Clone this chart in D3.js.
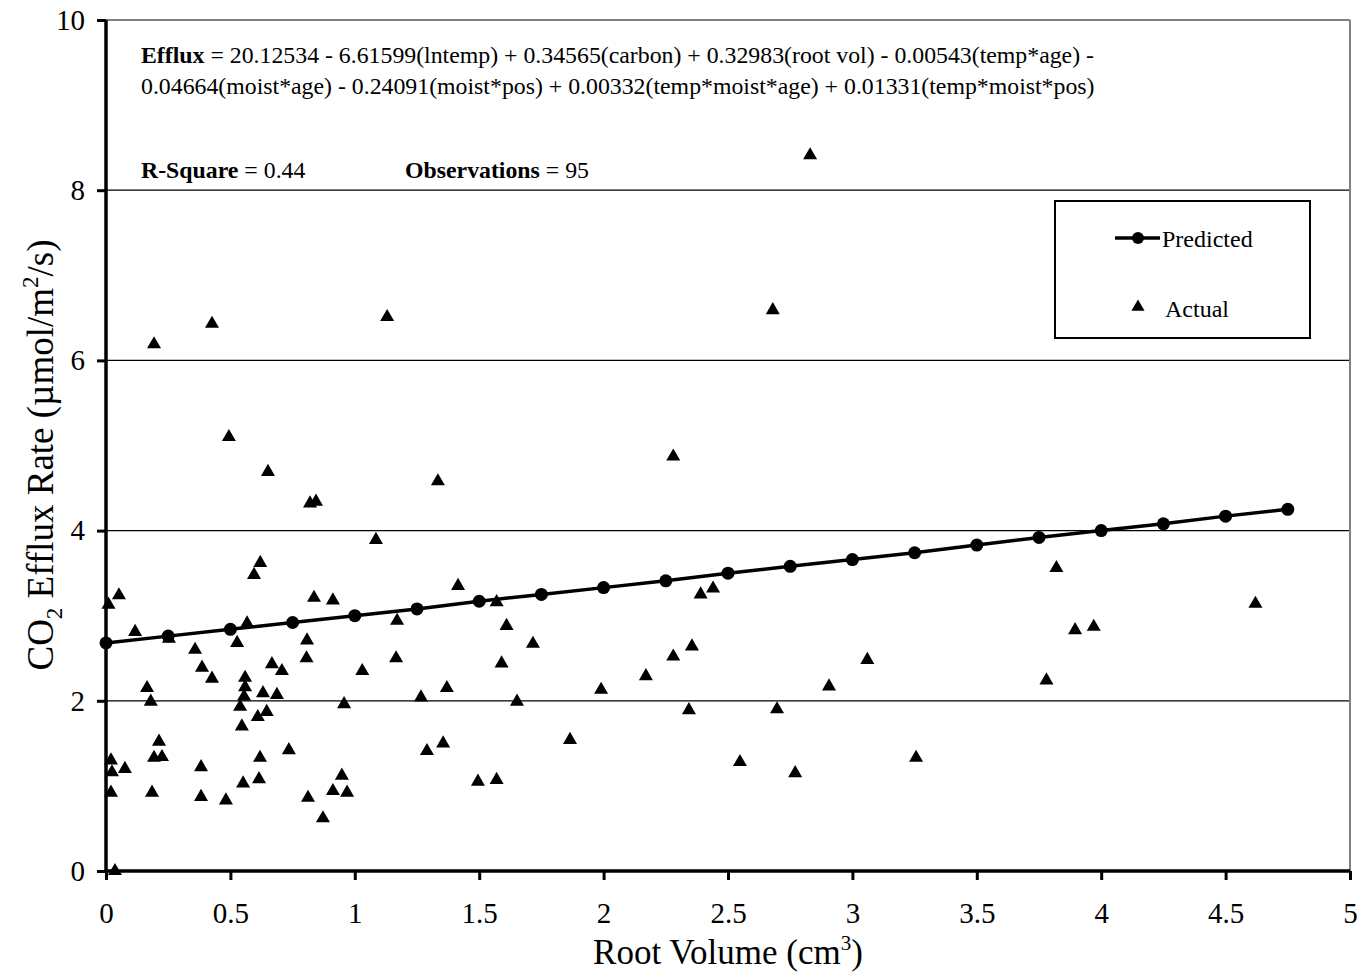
<!DOCTYPE html>
<html><head><meta charset="utf-8">
<script src="https://cdn.jsdelivr.net/npm/d3@7"></script>
<style>
body{margin:0;background:#fff}
svg{display:block}
text{font-family:"Liberation Serif","Times New Roman",serif;fill:#000}
</style>
</head><body>
<svg id="chart" width="1361" height="972"></svg>
<script>
// ---- data ----
const predictedX = [0,0.25,0.5,0.75,1,1.25,1.5,1.75,2,2.25,2.5,2.75,3,3.25,3.5,3.75,4,4.25,4.5,4.75];
const predictedY = [2.68,2.76,2.84,2.92,3.00,3.08,3.17,3.25,3.33,3.41,3.50,3.58,3.66,3.74,3.83,3.92,4.00,4.08,4.17,4.25];
const actualX = [0.01,0.052,0.117,0.253,0.595,0.62,0.836,0.912,0.567,0.527,0.358,0.386,0.426,0.808,0.806,0.667,0.707,0.559,0.559,0.555,
  0.539,0.546,0.631,0.687,0.61,0.646,0.165,0.18,0.957,0.213,0.193,0.225,0.02,0.024,0.076,0.02,0.185,0.382,0.382,0.482,
  0.619,0.551,0.615,0.735,0.812,0.872,0.948,0.912,0.969,0.036,1.415,1.57,1.17,1.61,1.716,1.166,1.59,1.03,1.37,1.266,
  1.652,1.865,1.355,1.29,1.495,1.57,0.193,0.426,1.13,0.494,0.651,0.82,0.844,1.085,2.68,2.28,1.334,2.83,2.39,2.44,
  2.355,2.28,2.17,1.99,3.06,2.906,2.343,2.697,2.548,2.77,3.256,3.82,4.62,3.895,3.97,3.78];
const actualY = [3.13,3.24,2.81,2.73,3.48,3.62,3.21,3.18,2.91,2.68,2.60,2.39,2.26,2.71,2.50,2.43,2.35,2.27,2.16,2.05,
  1.93,1.70,2.09,2.07,1.81,1.87,2.15,1.99,1.96,1.52,1.33,1.34,1.30,1.16,1.20,0.92,0.92,1.22,0.87,0.83,
  1.33,1.03,1.08,1.42,0.86,0.62,1.12,0.94,0.92,0.0,3.35,3.16,2.94,2.88,2.67,2.50,2.44,2.35,2.15,2.04,
  1.99,1.54,1.50,1.41,1.05,1.07,6.19,6.43,6.51,5.10,4.69,4.32,4.34,3.89,6.59,4.87,4.58,8.41,3.25,3.32,
  2.64,2.52,2.29,2.13,2.48,2.17,1.89,1.90,1.28,1.15,1.33,3.56,3.14,2.83,2.87,2.24];
const xTicks = [0,0.5,1,1.5,2,2.5,3,3.5,4,4.5,5];
const xTickLabels = ["0","0.5","1","1.5","2","2.5","3","3.5","4","4.5","5"];
const yTicks = [0,2,4,6,8,10];
const yTickLabels = ["0","2","4","6","8","10"];
const gridValues = [2,4,6,8];
const seriesNames = ["Predicted","Actual"];

// ---- chart ----
const svg = d3.select("#chart");
const x = d3.scaleLinear().domain([0,5]).range([106,1350]);
const y = d3.scaleLinear().domain([0,10]).range([871,20]);

// grid
svg.append("g").selectAll("line").data(gridValues).join("line")
  .attr("x1", x(0)).attr("x2", x(5))
  .attr("y1", d=>y(d)).attr("y2", d=>y(d))
  .attr("stroke","#000").attr("stroke-width",1.2);

// plot border top/right (gray)
svg.append("line").attr("x1",x(0)).attr("x2",x(5)).attr("y1",y(10)).attr("y2",y(10))
  .attr("stroke","#808080").attr("stroke-width",2);
svg.append("line").attr("x1",x(5)).attr("x2",x(5)).attr("y1",y(10)).attr("y2",y(0))
  .attr("stroke","#808080").attr("stroke-width",2);

// axes
const xAxis = svg.append("g").attr("transform",`translate(0,${y(0)})`)
  .call(d3.axisBottom(x).tickValues(xTicks).tickSize(9).tickPadding(22)
    .tickFormat((d,i)=>xTickLabels[i]));
const yAxis = svg.append("g").attr("transform",`translate(${x(0)},0)`)
  .call(d3.axisLeft(y).tickValues(yTicks).tickSize(9).tickPadding(12)
    .tickFormat((d,i)=>yTickLabels[i]));
[xAxis,yAxis].forEach(a=>{
  a.attr("font-family",null).attr("font-size",null);
  a.select(".domain").attr("stroke","#000").attr("stroke-width",3.5);
  a.selectAll(".tick line").attr("stroke","#000").attr("stroke-width",3);
  a.selectAll(".tick text").attr("font-size",29).attr("fill","#000");
});
xAxis.select(".domain").attr("d",`M${x(0)},0H${x(5)}`);
yAxis.select(".domain").attr("d",`M0,${y(10)}V${y(0)}`);

// predicted line
const line = d3.line().x(d=>x(d[0])).y(d=>y(d[1]));
const pred = predictedX.map((v,i)=>[v,predictedY[i]]);
svg.append("path").datum(pred).attr("d",line).attr("fill","none")
  .attr("stroke","#000").attr("stroke-width",3.5);
svg.append("g").selectAll("circle").data(pred).join("circle")
  .attr("cx",d=>x(d[0])).attr("cy",d=>y(d[1])).attr("r",6.5).attr("fill","#000");

// actual triangles
const tri = d3.symbol().type(d3.symbolTriangle).size(85);
svg.append("g").selectAll("path").data(actualX.map((v,i)=>[v,actualY[i]])).join("path")
  .attr("d",tri).attr("transform",d=>`translate(${x(d[0])},${y(d[1])})`).attr("fill","#000");

// axis titles
const xt = svg.append("text").attr("x",(x(0)+x(5))/2).attr("y",964)
  .attr("text-anchor","middle").attr("font-size",35);
xt.append("tspan").text("Root Volume (cm");
xt.append("tspan").text("3").attr("dy",-14).attr("font-size",21);
xt.append("tspan").text(")").attr("dy",14);

const yt = svg.append("text").attr("transform","translate(53,455) rotate(-90)")
  .attr("text-anchor","middle").attr("font-size",37);
yt.append("tspan").text("CO");
yt.append("tspan").text("2").attr("dy",9).attr("font-size",23);
yt.append("tspan").text(" Efflux Rate (µmol/m").attr("dy",-9);
yt.append("tspan").text("2").attr("dy",-15).attr("font-size",23);
yt.append("tspan").text("/s)").attr("dy",15);

// equation annotations
function richLine(xp, yp, parts){
  const t = svg.append("text").attr("x",xp).attr("y",yp).attr("font-size",23.8);
  parts.forEach(p=>t.append("tspan").text(p[0]).attr("font-weight",p[1]?"bold":"normal"));
}
richLine(141,63,[["Efflux",true],[" = 20.12534 - 6.61599(lntemp) + 0.34565(carbon) + 0.32983(root vol) - 0.00543(temp*age) -",false]]);
richLine(141,94,[["0.04664(moist*age) - 0.24091(moist*pos) + 0.00332(temp*moist*age) + 0.01331(temp*moist*pos)",false]]);
richLine(141,178,[["R-Square",true],[" = 0.44",false]]);
richLine(405,178,[["Observations",true],[" = 95",false]]);

// legend
const lg = svg.append("g");
lg.append("rect").attr("x",1055).attr("y",201).attr("width",255).attr("height",137)
  .attr("fill","#fff").attr("stroke","#000").attr("stroke-width",2);
lg.append("line").attr("x1",1115).attr("x2",1160).attr("y1",238).attr("y2",238)
  .attr("stroke","#000").attr("stroke-width",3.5);
lg.append("circle").attr("cx",1138).attr("cy",238).attr("r",6).attr("fill","#000");
lg.append("text").attr("x",1162).attr("y",247).attr("font-size",24).text(seriesNames[0]);
lg.append("path").attr("d",d3.symbol().type(d3.symbolTriangle).size(75)).attr("transform","translate(1138,307)").attr("fill","#000");
lg.append("text").attr("x",1165).attr("y",317).attr("font-size",24).text(seriesNames[1]);
</script>
</body></html>
